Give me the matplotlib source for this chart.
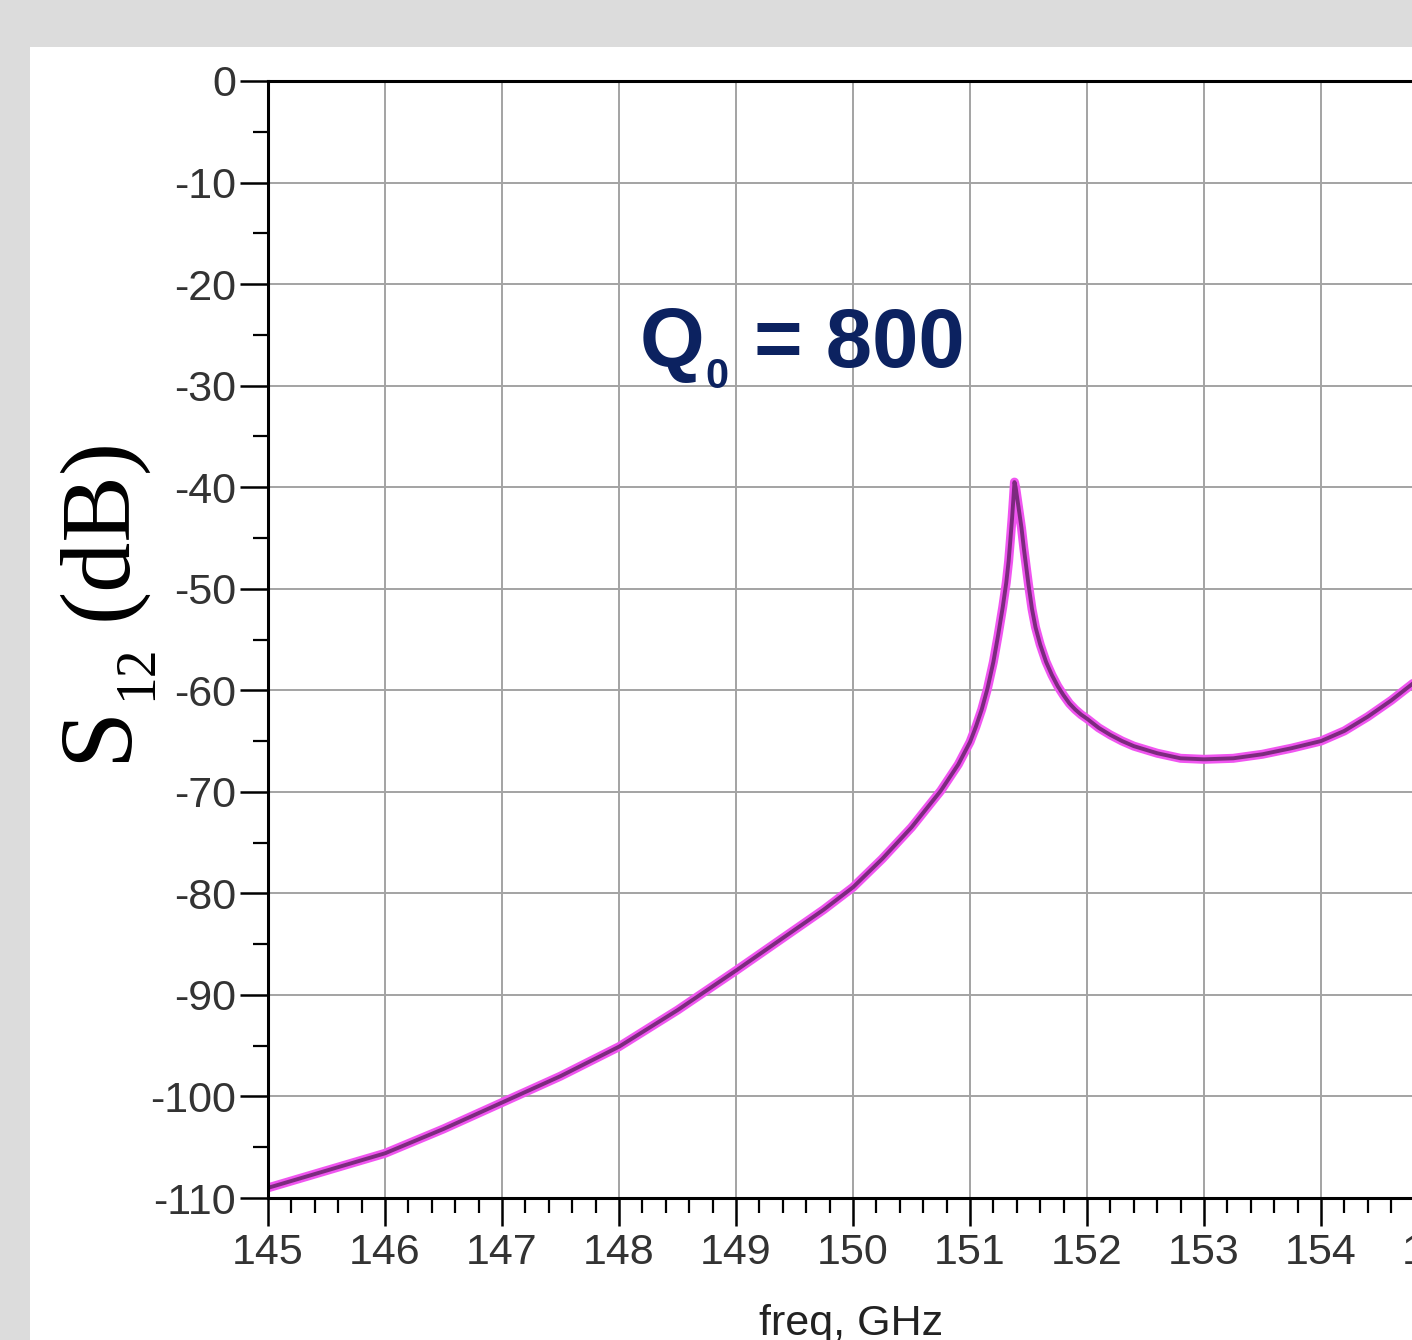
import matplotlib
matplotlib.use('Agg')
import matplotlib.pyplot as plt
from matplotlib.patches import Rectangle
from matplotlib.ticker import MultipleLocator

# S12 transmission
freq_ghz = [145.0, 145.5, 146.0, 146.5, 147.0, 147.5, 148.0, 148.5, 149.0,
            149.25, 149.5, 149.75, 150.0, 150.25, 150.5, 150.75, 150.9,
            151.0, 151.05, 151.1, 151.15, 151.2, 151.24, 151.28, 151.31,
            151.33, 151.345, 151.36, 151.37, 151.38, 151.39, 151.40, 151.42,
            151.44, 151.46, 151.48, 151.50, 151.53, 151.56, 151.6, 151.65,
            151.7, 151.75, 151.8, 151.85, 151.9, 151.95, 152.0, 152.1, 152.2,
            152.3, 152.4, 152.6, 152.8, 153.0, 153.25, 153.5, 153.75, 154.0,
            154.2, 154.4, 154.6, 154.8]
s12_db = [-109.0, -107.3, -105.6, -103.2, -100.6, -98.0, -95.1, -91.5, -87.6,
          -85.6, -83.6, -81.6, -79.4, -76.6, -73.5, -69.9, -67.3,
          -65.1, -63.6, -61.9, -59.8, -57.2, -54.6, -51.8, -49.4,
          -47.3, -45.2, -43.0, -41.3, -39.5, -40.0, -40.8, -42.4,
          -44.0, -46.0, -47.8, -49.6, -52.0, -53.8, -55.5, -57.2,
          -58.5, -59.6, -60.5, -61.3, -61.9, -62.4, -62.8, -63.7, -64.4,
          -65.0, -65.5, -66.2, -66.7, -66.8, -66.7, -66.3, -65.7, -65.0,
          -64.0, -62.6, -61.0, -59.2]

x_ticks = [145, 146, 147, 148, 149, 150, 151, 152, 153, 154, 155]
y_ticks = [0, -10, -20, -30, -40, -50, -60, -70, -80, -90, -100, -110]

W, H = 1412, 1340
plt.rcParams['axes.unicode_minus'] = False

fig = plt.figure(figsize=(W / 100, H / 100), dpi=100, facecolor='#dcdcdc')
fig.patches.append(Rectangle((30 / W, 0), 1, 1 - 47 / H, transform=fig.transFigure,
                             facecolor='white', edgecolor='none', zorder=-1))

# axes runs past the right edge, like the cropped original
ax = fig.add_axes([268 / W, 1 - 1198 / H, (1438 - 268) / W, (1198 - 81) / H])
ax.set_xlim(145, 155)
ax.set_ylim(-110, 0)
ax.set_xticks(x_ticks)
ax.set_yticks(y_ticks)
ax.xaxis.set_minor_locator(MultipleLocator(0.2))
ax.yaxis.set_minor_locator(MultipleLocator(5))
ax.grid(True, which='major', color='#a3a3a3', lw=1.4)
ax.set_axisbelow(True)

for side in ['top', 'left', 'bottom']:
    ax.spines[side].set_linewidth(2.2)
    ax.spines[side].set_color('black')
ax.spines['right'].set_visible(False)

ax.tick_params(which='major', length=20, width=1.8, color='black',
               labelsize=31, labelcolor='#333333')
ax.tick_params(which='minor', length=11, width=1.6, color='black')
ax.tick_params(axis='x', which='major', pad=5)
ax.tick_params(axis='y', which='major', pad=3)
for lab in ax.get_xticklabels() + ax.get_yticklabels():
    lab.set_fontfamily('Liberation Sans')

ax.plot(freq_ghz, s12_db, color='#f055f0', lw=6.5, solid_capstyle='round',
        solid_joinstyle='round')
ax.plot(freq_ghz, s12_db, color='#7c2a7e', lw=2.8, solid_capstyle='round',
        solid_joinstyle='round')

# y label in pieces: S, subscript 12, (dB)
fig.text(125 / W, 1 - 762 / H, 'S', rotation=90, rotation_mode='anchor',
         ha='left', va='baseline', fontsize=74, family='Liberation Serif')
fig.text(151 / W, 1 - 700 / H, '12', rotation=90, rotation_mode='anchor',
         ha='left', va='baseline', fontsize=40, family='Liberation Serif')
fig.text(125 / W, 1 - 620 / H, '(dB)', rotation=90, rotation_mode='anchor',
         ha='left', va='baseline', fontsize=72, family='Liberation Serif')

fig.text(851 / W, 1 - 1304 / H, 'freq, GHz', ha='center', va='top',
         fontsize=31, color='#222222', family='Liberation Sans')

# Q0 = 800 annotation
navy = '#0c2260'
fig.text(640 / W, 1 - 367 / H, 'Q', ha='left', va='baseline', fontsize=60,
         fontweight='bold', color=navy, family='Liberation Sans')
fig.text(705 / W, 1 - 388 / H, '0', ha='left', va='baseline', fontsize=30,
         fontweight='bold', color=navy, family='Liberation Sans')
fig.text(965 / W, 1 - 367 / H, '= 800', ha='right', va='baseline', fontsize=60,
         fontweight='bold', color=navy, family='Liberation Sans')

fig.savefig('out.png', dpi=100, facecolor=fig.get_facecolor())
